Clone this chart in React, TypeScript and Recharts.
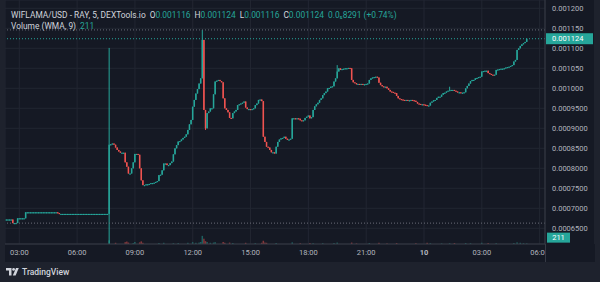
import React from 'react';
import { ComposedChart, Bar, XAxis, YAxis, CartesianGrid, ReferenceLine } from 'recharts';

const UP = '#26a69a';
const DOWN = '#ef5350';
const PANE_BG = '#151924';
const FRAME_BG = '#1e222d';
const AXIS_TEXT = '#b2b5be';
const FONT = 'Roboto, "Noto Sans", sans-serif';

// 5-minute candles, first one at 02:20 (minutes since midnight of day 1)
const startMinute = 140;
const firstOpen = 0.000672;

const closes = [
  // 02:20
  0.000672, 0.000672, 0.000672, 0.000672, 0.000663, 0.000663, 0.000663, 0.000675,
  // 03:00
  0.000675, 0.000675, 0.000675, 0.000675, 0.00069, 0.00069, 0.00069, 0.00069, 0.00069, 0.00069, 0.00069, 0.00069,
  // 04:00
  0.00069, 0.00069, 0.00069, 0.00069, 0.00069, 0.00069, 0.00069, 0.00069, 0.00069, 0.00069, 0.00069, 0.00069,
  // 05:00
  0.000688, 0.000686, 0.000686, 0.000686, 0.000686, 0.000686, 0.000686, 0.000686, 0.000686, 0.000686, 0.000686, 0.000686,
  // 06:00
  0.000686, 0.000686, 0.000686, 0.000686, 0.000686, 0.000686, 0.000686, 0.000686, 0.000686, 0.000686, 0.000686, 0.000686,
  // 07:00
  0.000686, 0.000686, 0.000686, 0.000686, 0.000686, 0.000686, 0.000686, 0.000686, 0.000859, 0.00086, 0.000862, 0.000859,
  // 08:00
  0.000852, 0.000846, 0.000842, 0.000839, 0.000839, 0.000839, 0.000815, 0.000804, 0.000787, 0.000787, 0.0008, 0.000815,
  // 09:00
  0.000836, 0.000836, 0.000834, 0.0008, 0.00077, 0.000758, 0.000758, 0.00076, 0.00076, 0.000761, 0.000763, 0.000763,
  // 10:00
  0.000764, 0.000766, 0.000768, 0.000783, 0.000784, 0.000795, 0.000812, 0.000812, 0.000808, 0.000808, 0.000813, 0.000817,
  // 11:00
  0.000835, 0.00085, 0.000858, 0.000867, 0.000868, 0.000872, 0.000876, 0.000879, 0.000885, 0.000896, 0.00091, 0.000921,
  // 12:00
  0.000954, 0.000971, 0.000987, 0.000998, 0.001012, 0.001025, 0.001121, 0.000946, 0.0009, 0.000938, 0.000942, 0.00095,
  // 13:00
  0.00095, 0.000985, 0.001017, 0.001019, 0.001021, 0.001018, 0.001015, 0.000975, 0.00095, 0.000946, 0.00094, 0.000926,
  // 14:00
  0.000925, 0.000938, 0.000942, 0.000946, 0.000958, 0.00096, 0.000962, 0.000964, 0.000967, 0.000952, 0.000948, 0.000948,
  // 15:00
  0.000947, 0.000948, 0.00095, 0.000958, 0.000962, 0.000971, 0.000972, 0.000968, 0.000879, 0.000866, 0.000854, 0.000852,
  // 16:00
  0.000846, 0.00084, 0.00084, 0.000837, 0.000854, 0.000866, 0.000872, 0.000875, 0.000876, 0.000879, 0.000874, 0.000871,
  // 17:00
  0.000872, 0.000874, 0.000925, 0.000925, 0.000924, 0.000925, 0.000924, 0.00092, 0.000918, 0.00092, 0.000926, 0.000929,
  // 18:00
  0.000932, 0.000925, 0.000928, 0.000946, 0.000955, 0.00096, 0.000964, 0.000971, 0.000975, 0.000983, 0.000988, 0.000992,
  // 19:00
  0.001, 0.001001, 0.001004, 0.001005, 0.001017, 0.001025, 0.001042, 0.00105, 0.001046, 0.001048, 0.001049, 0.00105,
  // 20:00
  0.00105, 0.001051, 0.00105, 0.001021, 0.001015, 0.001013, 0.00101, 0.001011, 0.00101, 0.001011, 0.00101, 0.00101,
  // 21:00
  0.001011, 0.001012, 0.001021, 0.001025, 0.001027, 0.001028, 0.001029, 0.001027, 0.001014, 0.001008, 0.001005, 0.001004,
  // 22:00
  0.001004, 0.001, 0.000996, 0.000992, 0.000991, 0.000989, 0.000988, 0.000981, 0.000975, 0.000973, 0.000972, 0.000971,
  // 23:00
  0.00097, 0.000971, 0.00097, 0.00097, 0.000971, 0.00097, 0.000969, 0.000966, 0.000962, 0.000961, 0.00096, 0.00096,
  // 00:00
  0.000959, 0.000958, 0.000956, 0.000957, 0.000964, 0.000967, 0.00097, 0.000971, 0.000976, 0.000979, 0.000979, 0.000984,
  // 01:00
  0.000988, 0.000989, 0.000992, 0.000994, 0.000995, 0.000996, 0.000996, 0.000994, 0.000992, 0.00099, 0.00099, 0.000989,
  // 02:00
  0.000989, 0.00099, 0.001, 0.001006, 0.001012, 0.001018, 0.001021, 0.001021, 0.001025, 0.001026, 0.001028, 0.001029,
  // 03:00
  0.001042, 0.001043, 0.001044, 0.001044, 0.001038, 0.001036, 0.001034, 0.001033, 0.001034, 0.001046, 0.001047, 0.001048,
  // 04:00
  0.001049, 0.001049, 0.00105, 0.001052, 0.001053, 0.001054, 0.001056, 0.001058, 0.001067, 0.001071, 0.001096, 0.0011,
  // 05:00
  0.001106, 0.00111, 0.001113, 0.001116, 0.001124,
];

// wicks that reach beyond the candle body (candle index -> price)
const highWicks: Record<number, number> = { 64: 0.001101, 122: 0.001146, 206: 0.001058, 276: 0.001004 };
const lowWicks: Record<number, number> = { 64: 0.0005, 124: 0.000896 };

// volume overlay: [candle index, volume]
const volumeBars: [number, number][] = [
  [64, 900], [68, 300], [74, 450], [75, 600], [76, 350], [79, 250], [80, 500], [83, 400], [84, 650], [85, 300],
  [95, 250], [98, 300], [104, 200], [107, 250], [113, 300], [116, 450], [118, 300], [120, 350], [121, 500],
  [122, 2000], [123, 1300], [124, 700], [125, 500], [127, 300], [129, 350], [130, 450], [135, 500], [136, 300],
  [139, 350], [141, 250], [149, 300], [155, 200], [159, 300], [160, 800], [161, 350], [162, 300], [168, 250],
  [178, 400], [183, 200], [189, 250], [191, 200], [197, 200], [204, 250], [206, 350], [215, 350], [218, 150],
  [226, 250], [232, 300], [237, 150], [243, 250], [255, 200], [262, 300], [264, 200], [271, 150], [276, 200],
  [279, 250], [286, 250], [289, 200], [296, 300], [300, 250], [305, 200], [316, 250], [318, 400], [320, 300],
  [322, 200], [324, 150],
];

const priceTicks = [0.00065, 0.0007, 0.00075, 0.0008, 0.00085, 0.0009, 0.00095, 0.001, 0.00105, 0.0011, 0.00115, 0.0012];
const timeTicks = [180, 360, 540, 720, 900, 1080, 1260, 1440, 1620, 1800];
const timeLabels = ['03:00', '06:00', '09:00', '12:00', '15:00', '18:00', '21:00', '10', '03:00', '06:00'];

const sessionHigh = 0.001146;
const sessionLow = 0.000663;
const volumeWma = 211;
const changeText = '0.0\u20858291 (+0.74%)';

const volumeByIndex: Record<number, number> = {};
volumeBars.forEach(([i, v]) => { volumeByIndex[i] = v; });

const rows = closes.map((c, i) => {
  const o = i === 0 ? firstOpen : closes[i - 1];
  const h = highWicks[i] ?? Math.max(o, c);
  const l = lowWicks[i] ?? Math.min(o, c);
  return {
    t: startMinute + 5 * i,
    o, h, l, c,
    body: [Math.min(o, c), Math.max(o, c)],
    wick: [l, h],
    vol: volumeByIndex[i],
  };
});

const last = rows[rows.length - 1];

const formatPrice = (v: number) => (v >= 0.001 ? v.toFixed(6) : v.toFixed(7));

const Body = (props: any) => {
  const { x, y, width, height, payload } = props;
  if (x == null || y == null) return null;
  const cx = x + width / 2;
  const top = Math.min(y, y + height);
  const h = Math.max(Math.abs(height), 1);
  return <rect x={cx - 0.75} y={top} width={1.5} height={h} fill={payload.c >= payload.o ? UP : DOWN} />;
};

const Wick = (props: any) => {
  const { x, y, width, height, payload } = props;
  if (x == null || y == null) return null;
  const cx = x + width / 2;
  const top = Math.min(y, y + height);
  const h = Math.max(Math.abs(height), 1);
  return <rect x={cx - 0.5} y={top} width={1} height={h} fill={payload.c >= payload.o ? UP : DOWN} />;
};

const VolumeBar = (props: any) => {
  const { x, y, width, height, payload } = props;
  if (x == null || y == null || !height) return null;
  const cx = x + width / 2;
  return (
    <rect x={cx - 0.75} y={y} width={1.5} height={height}
      fill={payload.c >= payload.o ? UP : DOWN} fillOpacity={0.5} />
  );
};

const PriceTick = (props: any) => {
  const { x, y, payload } = props;
  return (
    <text x={x + 7} y={y} dy={2.7} fill={AXIS_TEXT} fontSize={7.5} fontFamily={FONT} textAnchor="start">
      {formatPrice(payload.value)}
    </text>
  );
};

const TimeTick = (props: any) => {
  const { x, y, payload } = props;
  const idx = timeTicks.indexOf(payload.value);
  const label = timeLabels[idx];
  return (
    <text x={x} y={y + 8} dy={2.7} fill={AXIS_TEXT} fontSize={7.5} fontFamily={FONT}
      textAnchor="middle" fontWeight={label === '10' ? 700 : 400}>
      {label}
    </text>
  );
};

const PriceBadge = (props: any) => {
  const { viewBox, text } = props;
  if (!viewBox) return null;
  const x = viewBox.x + viewBox.width;
  const y = viewBox.y;
  return (
    <g>
      <rect x={x + 1} y={y - 5.5} width={47} height={11} fill={UP} />
      <text x={x + 7} y={y} dy={2.7} fill="#ffffff" fontSize={7.5} fontFamily={FONT}>{text}</text>
    </g>
  );
};

const VolumeBadge = (props: any) => {
  const { viewBox, text } = props;
  if (!viewBox) return null;
  const x = viewBox.x + viewBox.width;
  const y = viewBox.y;
  return (
    <g>
      <rect x={x + 2} y={y - 10.5} width={23} height={10} fill={UP} />
      <text x={x + 13.5} y={y - 5.5} dy={2.7} fill="#ffffff" fontSize={7.5} fontFamily={FONT} textAnchor="middle">{text}</text>
    </g>
  );
};

const xDomain = [135.5, 1816.7];

export default function App() {
  return (
    <div style={{ position: 'fixed', left: 0, top: 0, width: 600, height: 282, background: FRAME_BG, fontFamily: FONT, overflow: 'hidden' }}>
      <div style={{ position: 'absolute', left: 5, top: 0, width: 589, height: 262, background: PANE_BG }}>
        <ComposedChart width={589} height={262} data={rows} margin={{ top: 0, right: 0, bottom: 0, left: 0 }}>
          <CartesianGrid stroke="#222632" strokeWidth={1} />
          <XAxis dataKey="t" type="number" domain={xDomain} ticks={timeTicks} interval={0} allowDataOverflow
            height={18} tickLine={false} tickSize={0} tickMargin={0} axisLine={{ stroke: '#363a45' }} tick={<TimeTick />} />
          <XAxis xAxisId="w" dataKey="t" type="number" domain={xDomain} allowDataOverflow hide />
          <XAxis xAxisId="v" dataKey="t" type="number" domain={xDomain} allowDataOverflow hide />
          <YAxis orientation="right" type="number" domain={[0.0006108, 0.0012208]} ticks={priceTicks} interval={0}
            allowDataOverflow width={49} tickLine={false} tickSize={0} tickMargin={0}
            axisLine={{ stroke: '#363a45' }} tick={<PriceTick />} />
          <YAxis yAxisId="vol" type="number" domain={[0, 60000]} hide />
          <ReferenceLine y={sessionHigh} stroke="#6a6d78" strokeDasharray="1 2" />
          <ReferenceLine y={sessionLow} stroke="#6a6d78" strokeDasharray="1 2" />
          <Bar xAxisId="v" yAxisId="vol" dataKey="vol" barSize={2} shape={<VolumeBar />} isAnimationActive={false} />
          <Bar xAxisId="w" dataKey="wick" barSize={2} shape={<Wick />} isAnimationActive={false} />
          <Bar dataKey="body" barSize={2} shape={<Body />} isAnimationActive={false} />
          <ReferenceLine y={last.c} stroke={UP} strokeDasharray="1 2"
            label={<PriceBadge text={formatPrice(last.c)} />} />
          <ReferenceLine yAxisId="vol" y={volumeWma} stroke="none"
            label={<VolumeBadge text={String(volumeWma)} />} />
        </ComposedChart>
      </div>
      {/* price axis corner, hides the clipped time label */}
      <div style={{ position: 'absolute', left: 545, top: 244, width: 49, height: 18, background: PANE_BG, borderLeft: '1px solid #363a45' }} />
      {/* legend */}
      <div style={{ position: 'absolute', left: 11, top: 10, height: 11, lineHeight: '11px', fontSize: 8.4, color: '#d1d4dc', whiteSpace: 'nowrap' }}>
        WIFLAMA/USD - RAY, 5, DEXTools.io
        <span style={{ marginLeft: 4 }}>O<span style={{ color: UP }}>{formatPrice(last.o)}</span></span>
        <span style={{ marginLeft: 4 }}>H<span style={{ color: UP }}>{formatPrice(last.h)}</span></span>
        <span style={{ marginLeft: 4 }}>L<span style={{ color: UP }}>{formatPrice(last.l)}</span></span>
        <span style={{ marginLeft: 4 }}>C<span style={{ color: UP }}>{formatPrice(last.c)}</span></span>
        <span style={{ marginLeft: 4, color: UP }}>{changeText}</span>
      </div>
      <div style={{ position: 'absolute', left: 11, top: 21, height: 10, lineHeight: '10px', fontSize: 8.4, color: '#d1d4dc', whiteSpace: 'nowrap' }}>
        Volume (WMA, 9)<span style={{ marginLeft: 4, color: UP }}>{volumeWma}</span>
      </div>
      {/* TradingView mark */}
      <div style={{ position: 'absolute', left: 6, top: 266, height: 12, display: 'flex', alignItems: 'center', color: '#d1d4dc', fontSize: 8.5, fontWeight: 500 }}>
        <svg width={13} height={8} viewBox="0 0 13 8" style={{ marginRight: 3 }}>
          <path d="M0 0 H5.5 V7.5 H3 V2.5 H0 Z" fill="#d1d4dc" />
          <circle cx={7.6} cy={1.4} r={1.4} fill="#d1d4dc" />
          <path d="M10 0 H12.8 L9.6 7.5 H6.8 Z" fill="#d1d4dc" />
        </svg>
        TradingView
      </div>
    </div>
  );
}
